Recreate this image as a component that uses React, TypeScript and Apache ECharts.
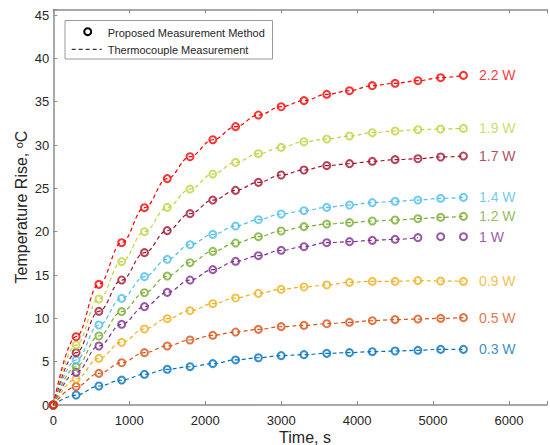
import React, { useEffect, useRef } from 'react';
import * as echarts from 'echarts';

// Time samples (s)
const times = [0, 300, 600, 900, 1200, 1500, 1800, 2100, 2400, 2700, 3000, 3300, 3600, 3900, 4200, 4500, 4800, 5100, 5400];

// Power levels and colours (drawn bottom to top)
const powerLabels = ['0.3 W', '0.5 W', '0.9 W', '1 W', '1.2 W', '1.4 W', '1.7 W', '1.9 W', '2.2 W'];
const powerColors = ['#0072BD', '#D95319', '#EDB120', '#7E2F8E', '#77AC30', '#4DBEEE', '#A2142F', '#C0D33F', '#FF0000'];

// Proposed measurement method (temperature rise, °C)
const measured03W = [0, 1.15, 2.19, 2.88, 3.54, 4.12, 4.42, 4.77, 5.2, 5.45, 5.7, 5.81, 5.96, 6.04, 6.15, 6.23, 6.31, 6.42, 6.42];
const measured05W = [0, 2.12, 3.65, 4.88, 6.04, 6.81, 7.5, 8.04, 8.42, 8.73, 9.04, 9.19, 9.38, 9.54, 9.73, 9.85, 9.92, 10.0, 10.08];
const measured09W = [0, 3.0, 5.38, 7.23, 8.77, 9.96, 10.88, 11.69, 12.35, 12.88, 13.35, 13.62, 13.85, 14.15, 14.27, 14.27, 14.35, 14.31, 14.27];
const measured1W = [0, 3.77, 6.81, 9.31, 11.35, 13.0, 14.42, 15.62, 16.58, 17.23, 17.85, 18.27, 18.73, 18.85, 19.0, 19.12, 19.31, 19.42, 19.42];
const measured12W = [0, 4.42, 7.96, 10.77, 12.96, 14.88, 16.42, 17.73, 18.69, 19.42, 20.08, 20.58, 20.88, 21.04, 21.23, 21.35, 21.5, 21.65, 21.77];
const measured14W = [0, 5.19, 9.23, 12.31, 14.81, 16.81, 18.5, 19.69, 20.65, 21.38, 22.04, 22.42, 22.81, 23.08, 23.35, 23.5, 23.65, 23.85, 23.96];
const measured17W = [0, 6.04, 10.81, 14.42, 17.58, 20.12, 22.08, 23.65, 24.77, 25.69, 26.54, 27.12, 27.62, 27.85, 28.12, 28.31, 28.42, 28.62, 28.73];
const measured19W = [0, 6.92, 12.23, 16.54, 20.0, 22.81, 24.92, 26.65, 28.0, 29.0, 29.73, 30.38, 30.69, 31.04, 31.42, 31.62, 31.77, 31.85, 31.92];
const measured22W = [0, 7.88, 13.92, 18.73, 22.77, 26.12, 28.65, 30.61, 32.12, 33.46, 34.42, 35.12, 35.85, 36.27, 36.85, 37.12, 37.42, 37.77, 38.04];

// Thermocouple measurement (°C)
const thermo03W = [0, 1.15, 2.19, 2.88, 3.54, 4.12, 4.42, 4.77, 5.2, 5.45, 5.7, 5.81, 5.96, 6.04, 6.15, 6.23, 6.31, 6.42, 6.42];
const thermo05W = [0, 2.12, 3.65, 4.88, 6.04, 6.81, 7.5, 8.04, 8.42, 8.73, 9.04, 9.19, 9.38, 9.54, 9.73, 9.85, 9.92, 10.0, 10.08];
const thermo09W = [0, 3.0, 5.38, 7.23, 8.77, 9.96, 10.88, 11.69, 12.35, 12.88, 13.35, 13.62, 13.85, 14.15, 14.27, 14.27, 14.35, 14.31, 14.27];
const thermo1W = [0, 3.77, 6.81, 9.31, 11.35, 13.0, 14.42, 15.62, 16.58, 17.23, 17.85, 18.27, 18.73, 18.85, 19.0, 19.12, 19.31];
const thermo12W = [0, 4.42, 7.96, 10.77, 12.96, 14.88, 16.42, 17.73, 18.69, 19.42, 20.08, 20.58, 20.88, 21.04, 21.23, 21.35, 21.5, 21.65, 21.77];
const thermo14W = [0, 5.19, 9.23, 12.31, 14.81, 16.81, 18.5, 19.69, 20.65, 21.38, 22.04, 22.42, 22.81, 23.08, 23.35, 23.5, 23.65, 23.85, 23.96];
const thermo17W = [0, 6.04, 10.81, 14.42, 17.58, 20.12, 22.08, 23.65, 24.77, 25.69, 26.54, 27.12, 27.62, 27.85, 28.12, 28.31, 28.42, 28.62, 28.73];
const thermo19W = [0, 6.92, 12.23, 16.54, 20.0, 22.81, 24.92, 26.65, 28.0, 29.0, 29.73, 30.38, 30.69, 31.04, 31.42, 31.62, 31.77, 31.85, 31.92];
const thermo22W = [0, 7.88, 13.92, 18.73, 22.77, 26.12, 28.65, 30.61, 32.12, 33.46, 34.42, 35.12, 35.85, 36.27, 36.85, 37.12, 37.42, 37.77, 38.04];

const measuredSets = [measured03W, measured05W, measured09W, measured1W, measured12W, measured14W, measured17W, measured19W, measured22W];
const thermoSets = [thermo03W, thermo05W, thermo09W, thermo1W, thermo12W, thermo14W, thermo17W, thermo19W, thermo22W];

const FONT = '"Liberation Sans", Arial, Helvetica, sans-serif';
const AXIS_COLOR = '#8c8c8c';
const TEXT_COLOR = '#262626';

export default function App() {
  const ref = useRef<HTMLDivElement>(null);

  useEffect(() => {
    if (!ref.current) return;
    const chart = echarts.init(ref.current, undefined, { renderer: 'svg' });

    const lineSeries = thermoSets.map((vals, i) => ({
      type: 'line',
      name: 'Thermocouple ' + powerLabels[i],
      data: vals.map((v, k) => [times[k], v]),
      smooth: 0.4,
      smoothMonotone: 'x',
      showSymbol: false,
      silent: true,
      lineStyle: { color: powerColors[i], width: 1.2, type: [4, 3] },
      z: 2,
    }));

    const scatterSeries = measuredSets.map((vals, i) => ({
      type: 'scatter',
      name: 'Measured ' + powerLabels[i],
      symbol: 'circle',
      symbolSize: 7,
      itemStyle: { color: 'rgba(255,255,255,0)', borderColor: powerColors[i], borderWidth: 2 },
      z: 3,
      data: vals.map((v, k) =>
        k === vals.length - 1
          ? {
              value: [times[k], v],
              label: {
                show: true,
                position: 'right',
                distance: 11,
                formatter: powerLabels[i],
                color: powerColors[i],
                fontSize: 14,
                fontFamily: FONT,
              },
            }
          : [times[k], v]
      ),
    }));

    const option = {
      animation: false,
      grid: { left: 53.3, right: -12.3, top: 9.4, bottom: 40, containLabel: false },
      xAxis: [
        {
          type: 'value',
          min: 0,
          max: 6500,
          interval: 1000,
          position: 'bottom',
          splitLine: { show: false },
          axisLine: { show: true, onZero: false, lineStyle: { color: AXIS_COLOR, width: 1.5 } },
          axisTick: { show: true, inside: true, length: 4, lineStyle: { color: AXIS_COLOR, width: 1 } },
          axisLabel: {
            color: TEXT_COLOR,
            fontSize: 13,
            fontFamily: FONT,
            margin: 9,
            formatter: (v: number) => (v % 1000 === 0 ? String(v) : ''),
          },
        },
        {
          type: 'value',
          min: 0,
          max: 6500,
          interval: 1000,
          position: 'top',
          splitLine: { show: false },
          axisLine: { show: true, onZero: false, lineStyle: { color: AXIS_COLOR, width: 1.5 } },
          axisTick: { show: true, inside: true, length: 4, lineStyle: { color: AXIS_COLOR, width: 1 } },
          axisLabel: { show: false },
        },
      ],
      yAxis: {
        type: 'value',
        min: 0,
        max: 45.65,
        interval: 5,
        splitLine: { show: false },
        axisLine: { show: true, onZero: false, lineStyle: { color: AXIS_COLOR, width: 1.5 } },
        axisTick: { show: true, inside: true, length: 4, lineStyle: { color: AXIS_COLOR, width: 1 } },
        axisLabel: {
          color: TEXT_COLOR,
          fontSize: 13,
          fontFamily: FONT,
          margin: 4,
          formatter: (v: number) => (Math.abs(v % 5) < 1e-9 ? String(v) : ''),
        },
      },
      series: [...lineSeries, ...scatterSeries],
      graphic: [
        {
          type: 'rect',
          shape: { x: 65, y: 20.5, width: 207.5, height: 38.5 },
          style: { fill: '#fff', stroke: '#9a9a9a', lineWidth: 1 },
          z: 10,
        },
        {
          type: 'circle',
          shape: { cx: 87.7, cy: 31.7, r: 3.5 },
          style: { fill: 'none', stroke: '#000', lineWidth: 2 },
          z: 11,
        },
        {
          type: 'text',
          x: 107.7,
          y: 33,
          style: { text: 'Proposed Measurement Method', fontSize: 11, fontFamily: FONT, fill: TEXT_COLOR, align: 'left', verticalAlign: 'middle' },
          z: 11,
        },
        {
          type: 'line',
          shape: { x1: 71.7, y1: 49.3, x2: 101.7, y2: 49.3 },
          style: { stroke: '#000', lineWidth: 1, lineDash: [4, 3] },
          z: 11,
        },
        {
          type: 'text',
          x: 107.7,
          y: 50,
          style: { text: 'Thermocouple Measurement', fontSize: 11, fontFamily: FONT, fill: TEXT_COLOR, align: 'left', verticalAlign: 'middle' },
          z: 11,
        },
        {
          type: 'text',
          x: 305,
          y: 437,
          style: { text: 'Time, s', fontSize: 16, fontFamily: FONT, fill: TEXT_COLOR, align: 'center', verticalAlign: 'middle' },
          z: 11,
        },
        {
          type: 'text',
          x: 21,
          y: 207,
          rotation: Math.PI / 2,
          style: {
            text: '{a|Temperature Rise, }{s|o}{a|C}',
            align: 'center',
            verticalAlign: 'middle',
            rich: {
              a: { fontSize: 16, fontFamily: FONT, fill: TEXT_COLOR, verticalAlign: 'bottom' },
              s: { fontSize: 11, fontFamily: FONT, fill: TEXT_COLOR, verticalAlign: 'top' },
            },
          },
          z: 11,
        },
      ],
    };

    chart.setOption(option as any);
    return () => chart.dispose();
  }, []);

  return (
    <div
      ref={ref}
      style={{ position: 'fixed', left: 0, top: 0, width: 550, height: 445, background: '#fff' }}
    />
  );
}
